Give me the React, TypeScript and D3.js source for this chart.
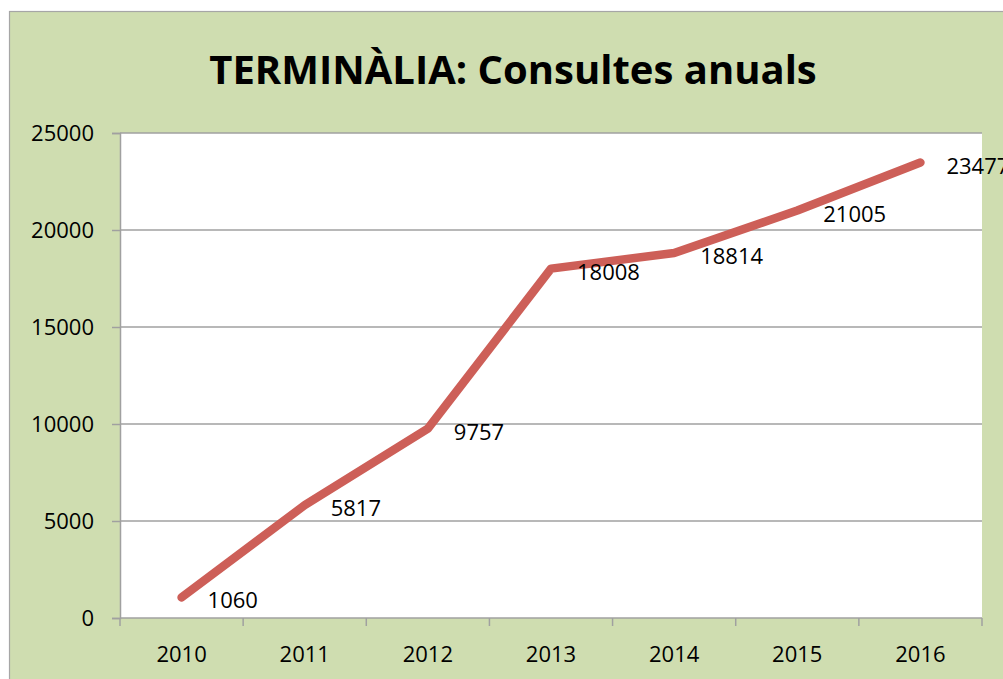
import { useRef, useEffect } from 'react';
import * as d3 from 'd3';

const years = ['2010', '2011', '2012', '2013', '2014', '2015', '2016'];
const consultes = [1060, 5817, 9757, 18008, 18814, 21005, 23477];
const yTicks = [0, 5000, 10000, 15000, 20000, 25000];
const title = 'TERMINÀLIA: Consultes anuals';

const W = 1003, H = 679;
const FONT = 'Open Sans, Lato, sans-serif';

export default function App() {
  const svgRef = useRef<SVGSVGElement>(null);

  useEffect(() => {
    const svg = d3.select(svgRef.current);
    svg.selectAll('*').remove();

    const m = { top: 133, right: 21, bottom: 61, left: 120 };
    const iw = W - m.left - m.right;
    const ih = H - m.top - m.bottom;

    // chart background + outer frame (cut off at right and bottom)
    svg.append('rect').attr('x', 9.5).attr('y', 11.5).attr('width', W + 20).attr('height', H + 20)
      .attr('fill', '#cfddb0').attr('stroke', '#a6a6a6').attr('stroke-width', 1.2);

    svg.append('text').attr('x', 513).attr('y', 84).attr('text-anchor', 'middle')
      .attr('font-family', FONT).attr('font-weight', 700).attr('font-size', 40).attr('fill', '#000')
      .text(title);

    const g = svg.append('g').attr('transform', `translate(${m.left},${m.top})`);
    g.append('rect').attr('width', iw).attr('height', ih).attr('fill', '#fff');

    const x = d3.scaleBand().domain(years).range([0, iw]);
    const y = d3.scaleLinear().domain([0, 25000]).range([ih, 0]);

    // gridlines
    g.append('g').selectAll('line').data(yTicks.filter(t => t > 0)).join('line')
      .attr('x1', 0).attr('x2', iw).attr('y1', d => y(d)).attr('y2', d => y(d))
      .attr('stroke', '#a0a0a0').attr('stroke-width', 1.5);

    // y axis
    const ya = g.append('g').call(d3.axisLeft(y).tickValues(yTicks).tickSize(8).tickPadding(18).tickFormat(d3.format('d')));
    styled(ya);
    ya.selectAll('text').attr('dy', '0.36em');

    // x axis with ticks at category boundaries
    const xa = g.append('g').attr('transform', `translate(0,${ih})`);
    xa.append('line').attr('x1', 0).attr('x2', iw).attr('stroke', '#a0a0a0').attr('stroke-width', 1.5);
    xa.selectAll('.tk').data(d3.range(years.length + 1)).join('line').attr('class', 'tk')
      .attr('x1', i => i * x.step()).attr('x2', i => i * x.step()).attr('y1', 0).attr('y2', 8)
      .attr('stroke', '#a0a0a0').attr('stroke-width', 1.5);
    xa.selectAll('.lb').data(years).join('text').attr('class', 'lb')
      .attr('x', d => x(d)! + x.bandwidth() / 2).attr('y', 44).attr('text-anchor', 'middle')
      .attr('font-family', FONT).attr('font-size', 22).attr('fill', '#000').text(d => d);

    const pts = years.map((yr, i) => ({ yr, v: consultes[i] }));
    const line = d3.line<{ yr: string; v: number }>()
      .x(d => x(d.yr)! + x.bandwidth() / 2).y(d => y(d.v));
    g.append('path').datum(pts).attr('d', line).attr('fill', 'none')
      .attr('stroke', '#cd5f58').attr('stroke-width', 8.5)
      .attr('stroke-linecap', 'round').attr('stroke-linejoin', 'round');

    // data labels
    g.selectAll('.dl').data(pts).join('text').attr('class', 'dl')
      .attr('x', d => x(d.yr)! + x.bandwidth() / 2 + 26).attr('y', d => y(d.v) + 11)
      .attr('font-family', FONT).attr('font-size', 22).attr('fill', '#000')
      .text(d => d.v);
  }, []);

  return (
    <svg ref={svgRef} width={W} height={H}
      style={{ position: 'absolute', left: 0, top: 0, display: 'block', background: '#fff' }} />
  );
}

function styled(a: d3.Selection<SVGGElement, unknown, null, undefined>) {
  a.select('.domain').attr('stroke', '#a0a0a0').attr('stroke-width', 1.5);
  a.selectAll('.tick line').attr('stroke', '#a0a0a0').attr('stroke-width', 1.5);
  a.selectAll('text').attr('fill', '#000').attr('font-size', 22).attr('font-family', FONT);
}
